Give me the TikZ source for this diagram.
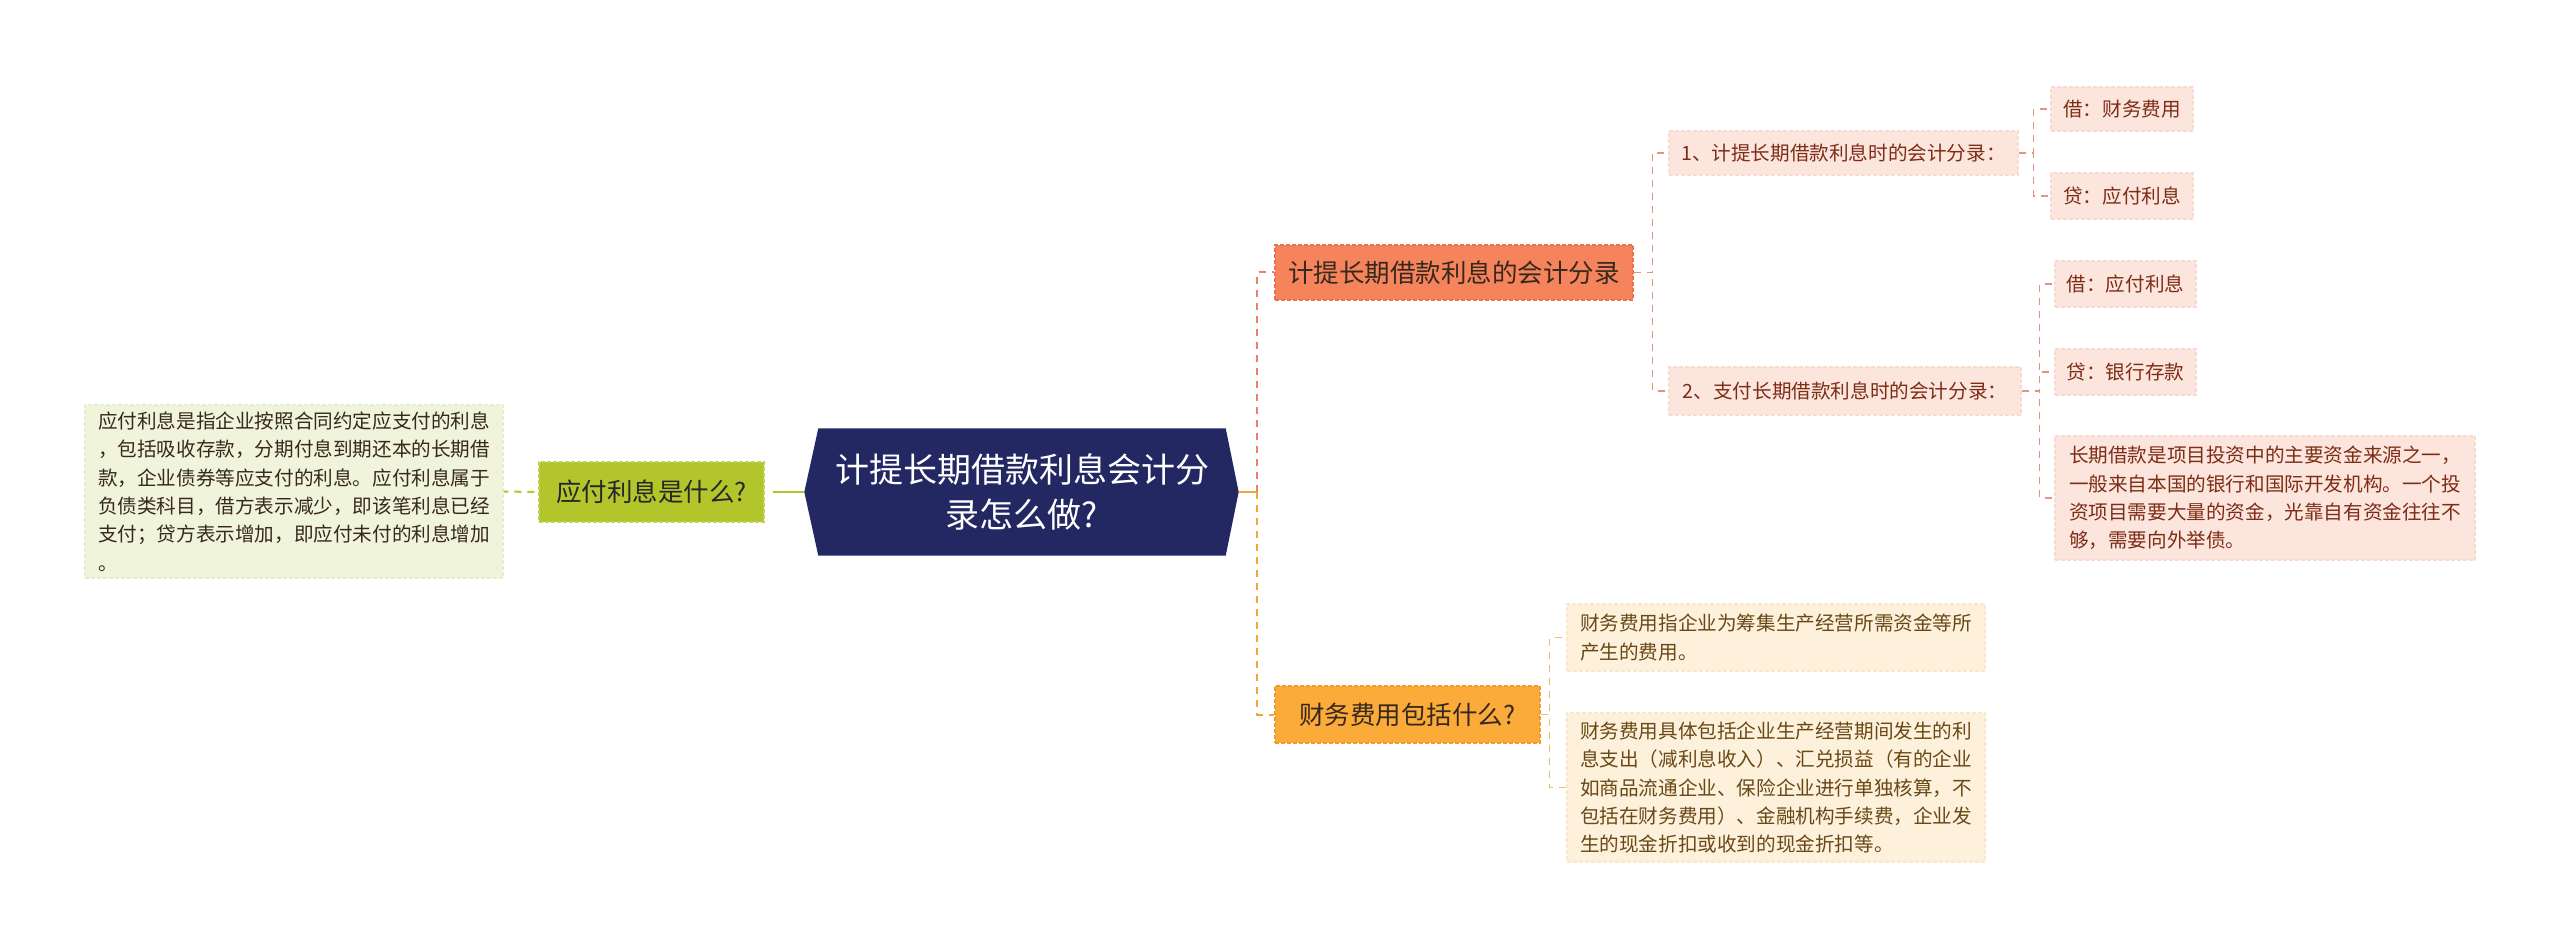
\documentclass[tikz,border=0pt]{standalone}
\usepackage{fontspec}
\setmainfont{Noto Sans CJK SC}
\usetikzlibrary{backgrounds}
\definecolor{navy}{RGB}{35,40,99}
\definecolor{ygreen}{RGB}{178,198,44}
\definecolor{greenbg}{RGB}{240,244,218}
\definecolor{greenbd}{RGB}{230,238,205}
\definecolor{coral}{RGB}{245,132,92}
\definecolor{coralbd}{RGB}{232,115,78}
\definecolor{coralln}{RGB}{233,130,94}
\definecolor{orng}{RGB}{251,171,58}
\definecolor{orngbd}{RGB}{238,156,44}
\definecolor{orngln}{RGB}{243,165,58}
\definecolor{pinkbg}{RGB}{252,229,221}
\definecolor{pinkbd}{RGB}{248,218,208}
\definecolor{pinktxt}{RGB}{125,45,22}
\definecolor{pinkln}{RGB}{222,150,126}
\definecolor{creambg}{RGB}{254,241,220}
\definecolor{creambd}{RGB}{250,232,202}
\definecolor{creamtxt}{RGB}{105,72,22}
\definecolor{creamln}{RGB}{236,190,115}
\definecolor{txtdark}{RGB}{55,40,30}
\tikzset{
  box/.style={rectangle, inner sep=0pt, align=left},
  bdash/.style={dash pattern=on 4pt off 2pt, line width=1.2pt},
  rootbox/.style={box, align=center, text=white, font=\fontsize{34}{45}\selectfont, minimum width=407pt, minimum height=127pt},
  lvltwo/.style={box, font=\fontsize{25.5}{32}\selectfont, text=txtdark, bdash},
  leaf/.style={box, font=\fontsize{19.6}{28.4}\selectfont},
  pinkleaf/.style={leaf, fill=pinkbg, draw=pinkbd, bdash, text=pinktxt},
  creamleaf/.style={leaf, fill=creambg, draw=creambd, bdash, text=creamtxt},
  greenleaf/.style={leaf, fill=greenbg, draw=greenbd, bdash, text=txtdark},
  lnkgreen/.style={draw=ygreen, line width=2.2pt},
  lnkcoral/.style={draw=coralln, line width=2pt, dash pattern=on 7pt off 6pt},
  lnkorng/.style={draw=orngln, line width=2pt, dash pattern=on 7pt off 6pt},
  lnkpink/.style={draw=pinkln, line width=1.6pt, dash pattern=on 7pt off 6pt},
  lnkcream/.style={draw=creamln, line width=1.6pt, dash pattern=on 7pt off 6pt},
}
\begin{document}
\begin{tikzpicture}[x=1pt,y=-1pt]
\useasboundingbox (0,0) rectangle (2560,949);

% root
\node[rootbox] (root) at (1022,492) {计提长期借款利息会计分\\录怎么做?};
\begin{scope}[on background layer]
\fill[navy] ([xshift=-14pt]root.west) -- (root.north west) -- (root.north east) -- ([xshift=13pt]root.east) -- (root.south east) -- (root.south west) -- cycle;
\end{scope}
\coordinate (rootL) at ([xshift=-14pt]root.west);
\coordinate (rootR) at ([xshift=13pt]root.east);
\coordinate (spine) at (1257,492);

% left branch
\node[lvltwo, fill=ygreen, draw=ygreen!80!white, minimum width=225pt, minimum height=60pt, text=black!85] (leftq) at (651.5,492) {应付利息是什么?};
\node[greenleaf, minimum width=418pt, minimum height=173pt] (lefttext) at (294,491.5) {应付利息是指企业按照合同约定应支付的利息\\，包括吸收存款，分期付息到期还本的长期借\\款，企业债券等应支付的利息。应付利息属于\\负债类科目，借方表示减少，即该笔利息已经\\支付；贷方表示增加，即应付未付的利息增加\\。};

% right level 2
\node[lvltwo, fill=coral, draw=coralbd, minimum width=358pt, minimum height=55pt] (c1) at (1454,272.5) {计提长期借款利息的会计分录};
\node[lvltwo, fill=orng, draw=orngbd, minimum width=265pt, minimum height=57pt] (c2) at (1407.5,714.5) {财务费用包括什么?};

% level 3 under c1
\node[pinkleaf, minimum width=349pt, minimum height=44pt] (n1) at (1843.5,153) {1、计提长期借款利息时的会计分录：};
\node[pinkleaf, minimum width=352pt, minimum height=48pt] (n2) at (1845,391) {2、支付长期借款利息时的会计分录：};

% level 4
\node[pinkleaf, minimum width=142pt, minimum height=44pt] (a1) at (2122,109) {借：财务费用};
\node[pinkleaf, minimum width=142pt, minimum height=46pt] (a2) at (2122,196) {贷：应付利息};
\node[pinkleaf, minimum width=141pt, minimum height=46pt] (b1) at (2125.5,284) {借：应付利息};
\node[pinkleaf, minimum width=141pt, minimum height=46pt] (b2) at (2125.5,372) {贷：银行存款};
\node[pinkleaf, minimum width=420pt, minimum height=124pt] (b3) at (2265,498) {长期借款是项目投资中的主要资金来源之一，\\一般来自本国的银行和国际开发机构。一个投\\资项目需要大量的资金，光靠自有资金往往不\\够，需要向外举债。};

% level 3 under c2
\node[creamleaf, minimum width=418pt, minimum height=67pt] (d1) at (1776,637.5) {财务费用指企业为筹集生产经营所需资金等所\\产生的费用。};
\node[creamleaf, minimum width=418pt, minimum height=149pt] (d2) at (1776,787.5) {财务费用具体包括企业生产经营期间发生的利\\息支出（减利息收入）、汇兑损益（有的企业\\如商品流通企业、保险企业进行单独核算，不\\包括在财务费用）、金融机构手续费，企业发\\生的现金折扣或收到的现金折扣等。};

% connectors
\draw[lnkgreen] (rootL) -- ([xshift=8pt]leftq.east);
\draw[lnkgreen, line width=2pt, dash pattern=on 7pt off 6pt] ([xshift=-4pt]leftq.west) -- (lefttext.east);
\draw[draw=orngln, line width=2pt] (rootR) -- (spine);
\draw[lnkcoral] (spine) |- (c1.west);
\draw[lnkorng] (spine) |- (c2.west);

\draw[lnkpink] (c1.east) -- ++(19,0) |- (n1.west);
\draw[lnkpink] (c1.east) -- ++(19,0) |- (n2.west);
\draw[lnkpink] (n1.east) -- ++(15,0) |- (a1.west);
\draw[lnkpink] (n1.east) -- ++(15,0) |- (a2.west);
\draw[lnkpink] (n2.east) -- ++(18,0) |- (b1.west);
\draw[lnkpink] (n2.east) -- ++(18,0) |- (b2.west);
\draw[lnkpink] (n2.east) -- ++(18,0) |- (b3.west);

\draw[lnkcream] (c2.east) -- ++(9,0) |- (d1.west);
\draw[lnkcream] (c2.east) -- ++(9,0) |- (d2.west);
\end{tikzpicture}
\end{document}
